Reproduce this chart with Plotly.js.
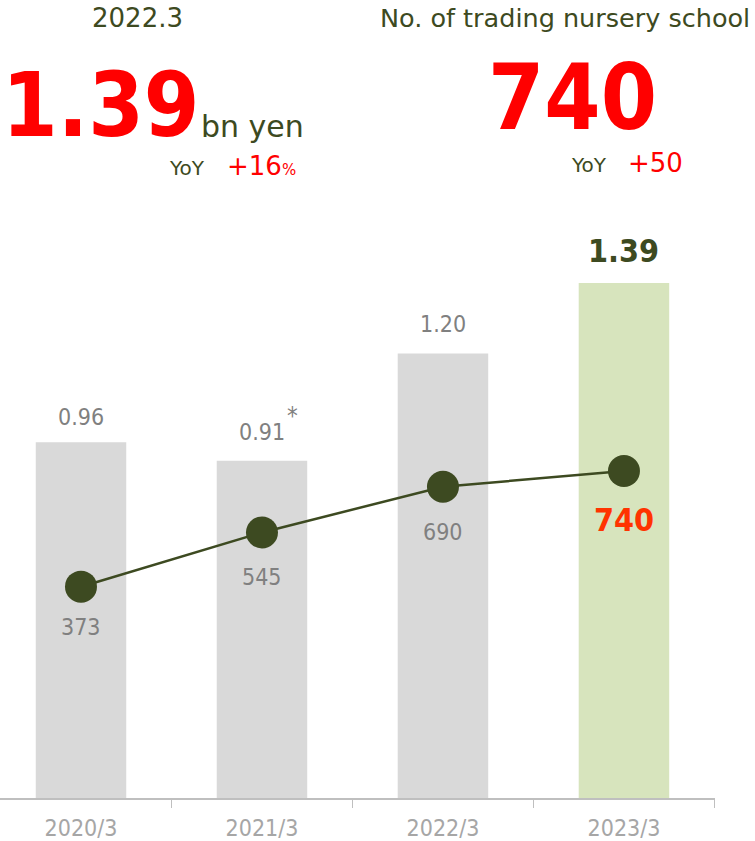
<!DOCTYPE html>
<html>
<head>
<meta charset="utf-8">
<script src="https://cdn.plot.ly/plotly-3.0.1.min.js"></script>
<style>
  html, body { margin: 0; padding: 0; background: #ffffff; }
  #chart { width: 755px; height: 841px; }
</style>
</head>
<body>
<div id="chart"></div>
<script>
// ---- data ----
const categories = ['2020/3', '2021/3', '2022/3', '2023/3'];
const revenue = [0.96, 0.91, 1.20, 1.39];          // bn yen
const revenueLabels = ['0.96', '0.91', '1.20', '1.39'];
const schools = [373, 545, 690, 740];              // No. of trading nursery schools
const schoolLabels = ['373', '545', '690', '740'];

// header texts
const leftPeriod = '2022.3';
const leftValue = '1.39';
const leftUnit = 'bn yen';
const leftYoY = '+16';
const rightTitle = 'No. of trading nursery school';
const rightValue = '740';
const rightYoY = '+50';

// ---- styles ----
const OLIVE = '#3d4a21';
const RED = '#ff0000';
const GREY_TXT = '#808080';
const REG = 'DejaVu Sans, Verdana, sans-serif';
const COND = 'DejaVu Sans Condensed, DejaVu Sans, sans-serif';
const barColors = ['#d9d9d9', '#d9d9d9', '#d9d9d9', '#d7e4bd'];

const last = categories.length - 1;

const bars = {
  type: 'bar',
  x: categories,
  y: revenue,
  width: 0.5,
  marker: { color: barColors, line: { width: 0 } },
  hoverinfo: 'none',
  cliponaxis: false
};

const line = {
  type: 'scatter',
  mode: 'lines+markers',
  x: categories,
  y: schools,
  yaxis: 'y2',
  line: { color: OLIVE, width: 2.5 },
  marker: { color: OLIVE, size: 32 },
  hoverinfo: 'none',
  cliponaxis: false
};

const annotations = [];

// bar value labels
categories.forEach((c, i) => {
  const isLast = i === last;
  annotations.push({
    x: c, y: revenue[i], xref: 'x', yref: 'y',
    text: revenueLabels[i],
    showarrow: false, xanchor: 'center', yanchor: 'middle',
    yshift: isLast ? 32 : (i === 0 ? 25 : 29),
    font: isLast
      ? { family: COND, size: 32, color: OLIVE, weight: 'bold' }
      : { family: COND, size: 23, color: GREY_TXT }
  });
});
// asterisk on 2021/3
annotations.push({
  x: categories[1], y: revenue[1], xref: 'x', yref: 'y',
  text: '*', showarrow: false, xanchor: 'center', yanchor: 'middle',
  xshift: 31, yshift: 45,
  font: { family: COND, size: 24, color: GREY_TXT }
});

// line value labels
categories.forEach((c, i) => {
  const isLast = i === last;
  annotations.push({
    x: c, y: schools[i], xref: 'x', yref: 'y2',
    text: schoolLabels[i],
    showarrow: false, xanchor: 'center', yanchor: 'middle',
    yshift: isLast ? -49 : (i === 0 ? -40 : -45),
    font: isLast
      ? { family: COND, size: 32, color: '#ff3300', weight: 'bold' }
      : { family: COND, size: 23, color: GREY_TXT }
  });
});

// header (pixel placed relative to top-left of the plot area)
function hdr(text, px, py, font, xanchor) {
  annotations.push({
    xref: 'paper', yref: 'paper', x: 0, y: 1,
    xshift: px, yshift: -py,
    text: text, showarrow: false,
    xanchor: xanchor || 'center', yanchor: 'middle',
    font: font
  });
}
hdr(leftPeriod, 137, 18, { family: REG, size: 26, color: OLIVE });
hdr(leftValue, 101, 105, { family: COND, size: 89, color: RED, weight: 'bold' });
hdr(leftUnit, 199, 126, { family: REG, size: 30, color: OLIVE }, 'left');
hdr('YoY', 187, 168, { family: REG, size: 20, color: OLIVE });
hdr(leftYoY + '<span style="font-size:15px">%</span>', 225, 166, { family: REG, size: 26, color: RED }, 'left');

hdr(rightTitle, 565, 18, { family: REG, size: 25.5, color: OLIVE });
hdr(rightValue, 572, 97, { family: COND, size: 90, color: RED, weight: 'bold' });
hdr('YoY', 589, 165, { family: REG, size: 20, color: OLIVE });
hdr(rightYoY, 626, 163, { family: REG, size: 26, color: RED }, 'left');

const layout = {
  width: 755,
  height: 841,
  margin: { l: 0, r: 40, t: 0, b: 43, pad: 0 },
  paper_bgcolor: '#ffffff',
  plot_bgcolor: '#ffffff',
  showlegend: false,
  xaxis: {
    type: 'category',
    categoryorder: 'array',
    categoryarray: categories,
    range: [-0.4475, 3.503],
    showline: true,
    linecolor: '#bfbfbf',
    linewidth: 1.5,
    ticks: 'outside',
    tickson: 'boundaries',
    ticklen: 8,
    tickwidth: 1.5,
    tickcolor: '#bfbfbf',
    ticklabelstandoff: 9,
    showgrid: false,
    zeroline: false,
    tickfont: { family: COND, size: 23, color: '#a6a6a6' },
    fixedrange: true
  },
  yaxis: {
    range: [0, 2.1538],
    visible: false,
    showgrid: false,
    zeroline: false,
    fixedrange: true
  },
  yaxis2: {
    overlaying: 'y',
    range: [-297.2, 2233.7],
    visible: false,
    showgrid: false,
    zeroline: false,
    fixedrange: true
  },
  annotations: annotations,
  bargap: 0.5
};

Plotly.newPlot('chart', [bars, line], layout, { displayModeBar: false, staticPlot: true });
</script>
</body>
</html>
